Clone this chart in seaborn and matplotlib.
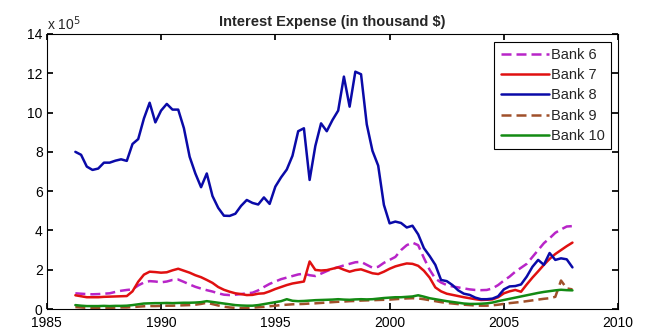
import matplotlib
matplotlib.use("Agg")
import matplotlib.pyplot as plt
import seaborn as sns
import pandas as pd
import numpy as np

sns.set_theme(style="white")
plt.rcParams['font.family'] = ['Liberation Sans', 'DejaVu Sans']

# quarterly dates, 1986 Q2 .. 2008 Q1
anos = np.arange(1986.25, 2008.01, 0.25)

# valores em unidades de 10^5 (mil $)
bank6 = [0.8, 0.78, 0.76, 0.75, 0.76, 0.78, 0.8, 0.87, 0.93, 0.97, 1.0, 1.2,
         1.35, 1.42, 1.4, 1.36, 1.4, 1.48, 1.5, 1.38, 1.25, 1.13, 1.04, 0.96,
         0.89, 0.8, 0.73, 0.71, 0.73, 0.76, 0.8, 0.83, 0.95, 1.12, 1.28, 1.4,
         1.52, 1.6, 1.68, 1.76, 1.8, 1.72, 1.68, 1.8, 1.93, 2.05, 2.13, 2.22,
         2.3, 2.38, 2.4, 2.25, 2.1, 2.15, 2.35, 2.5, 2.65, 3.0, 3.25, 3.38,
         3.25, 2.6, 2.0, 1.55, 1.35, 1.22, 1.15, 1.1, 1.05, 1.0, 0.97, 0.96,
         0.97, 1.05, 1.22, 1.45, 1.65, 1.9, 2.1, 2.3, 2.65, 3.0, 3.35, 3.6,
         3.88, 4.05, 4.2, 4.22]
bank7 = [0.7, 0.65, 0.6, 0.6, 0.6, 0.62, 0.63, 0.64, 0.65, 0.66, 0.9, 1.39,
         1.75, 1.9, 1.88, 1.85, 1.87, 1.97, 2.05, 1.95, 1.85, 1.72, 1.62, 1.48,
         1.33, 1.12, 0.98, 0.88, 0.8, 0.76, 0.71, 0.72, 0.78, 0.8, 0.9, 1.02,
         1.12, 1.22, 1.3, 1.35, 1.4, 2.42, 1.99, 1.96, 1.98, 2.05, 2.12, 2.0,
         1.9, 1.98, 2.02, 1.92, 1.82, 1.78, 1.9, 2.05, 2.17, 2.25, 2.32, 2.3,
         2.2, 1.95, 1.6, 1.1, 0.9, 0.78, 0.72, 0.66, 0.6, 0.55, 0.5, 0.46,
         0.47, 0.49, 0.6, 0.8, 0.9, 0.97, 0.88, 1.25, 1.6, 1.92, 2.25, 2.55,
         2.8, 3.0, 3.2, 3.38]
bank8 = [8.0, 7.85, 7.25, 7.08, 7.15, 7.45, 7.45, 7.55, 7.62, 7.54, 8.4, 8.65,
         9.7, 10.5, 9.5, 10.1, 10.44, 10.15, 10.15, 9.2, 7.75, 6.9, 6.2, 6.9,
         5.75, 5.15, 4.75, 4.74, 4.85, 5.25, 5.55, 5.4, 5.32, 5.68, 5.35, 6.23,
         6.7, 7.1, 7.8, 9.05, 9.2, 6.57, 8.3, 9.45, 9.05, 9.62, 10.1, 11.83,
         10.3, 12.08, 11.95, 9.4, 8.05, 7.3, 5.3, 4.36, 4.45, 4.38, 4.15, 4.24,
         3.8, 3.1, 2.7, 2.25, 1.48, 1.42, 1.22, 0.95, 0.78, 0.72, 0.58, 0.5,
         0.5, 0.53, 0.65, 1.0, 1.15, 1.17, 1.25, 1.65, 2.15, 2.5, 2.25, 2.85,
         2.5, 2.58, 2.53, 2.12]
bank9 = [0.1, 0.08, 0.06, 0.05, 0.05, 0.06, 0.06, 0.07, 0.08, 0.08, 0.1, 0.12,
         0.14, 0.15, 0.15, 0.16, 0.17, 0.17, 0.18, 0.19, 0.2, 0.22, 0.26, 0.32,
         0.25, 0.18, 0.12, 0.08, 0.06, 0.05, 0.06, 0.07, 0.09, 0.11, 0.14, 0.17,
         0.2, 0.22, 0.24, 0.25, 0.26, 0.28, 0.29, 0.31, 0.33, 0.35, 0.37, 0.38,
         0.4, 0.41, 0.43, 0.44, 0.45, 0.46, 0.47, 0.48, 0.5, 0.52, 0.54, 0.55,
         0.54, 0.5, 0.45, 0.4, 0.35, 0.31, 0.28, 0.25, 0.22, 0.2, 0.18, 0.17,
         0.17, 0.19, 0.22, 0.26, 0.3, 0.33, 0.36, 0.4, 0.44, 0.48, 0.52, 0.55,
         0.62, 1.45, 1.05, 1.0]
bank10 = [0.2, 0.17, 0.15, 0.15, 0.15, 0.16, 0.15, 0.16, 0.16, 0.17, 0.2, 0.24,
          0.28, 0.29, 0.3, 0.3, 0.31, 0.3, 0.31, 0.32, 0.32, 0.33, 0.35, 0.4,
          0.36, 0.32, 0.28, 0.24, 0.2, 0.18, 0.17, 0.17, 0.2, 0.25, 0.3, 0.35,
          0.4, 0.5, 0.42, 0.4, 0.41, 0.43, 0.45, 0.46, 0.47, 0.48, 0.5, 0.48,
          0.47, 0.49, 0.5, 0.49, 0.5, 0.53, 0.56, 0.58, 0.6, 0.6, 0.62, 0.64,
          0.7, 0.63, 0.55, 0.5, 0.45, 0.4, 0.36, 0.32, 0.28, 0.26, 0.26, 0.27,
          0.29, 0.33, 0.4, 0.46, 0.52, 0.58, 0.64, 0.7, 0.76, 0.82, 0.87, 0.91,
          0.95, 0.98, 0.96, 0.95]

bancos = ["Bank 6", "Bank 7", "Bank 8", "Bank 9", "Bank 10"]
series = [bank6, bank7, bank8, bank9, bank10]

df = pd.concat([pd.DataFrame({"Ano": anos, "Valor": v, "Banco": b})
                for b, v in zip(bancos, series)])

cores = {"Bank 6": "#B825C8", "Bank 7": "#E01010", "Bank 8": "#0A0AA8",
         "Bank 9": "#A0502A", "Bank 10": "#138A13"}
tracos = {"Bank 6": (4, 2), "Bank 7": "", "Bank 8": "", "Bank 9": (4, 2), "Bank 10": ""}

fig = plt.figure(figsize=(6.5, 3.33), dpi=100)
ax = fig.add_axes([0.072, 0.072, 0.879, 0.826])

sns.lineplot(data=df, x="Ano", y="Valor", hue="Banco", style="Banco",
             palette=cores, dashes=tracos, linewidth=1.8, ax=ax)

ax.set_xlim(1985, 2010)
ax.set_ylim(0, 14)
ax.set_xticks(range(1985, 2011, 5))
ax.set_yticks(range(0, 15, 2))
ax.set_xlabel("")
ax.set_ylabel("")
ax.tick_params(direction="in", length=4, labelsize=10, colors="black",
               top=True, right=True, bottom=True, left=True)
ax.tick_params(axis="x", pad=5)
ax.tick_params(axis="y", pad=3)
for s in ax.spines.values():
    s.set_color("black")
    s.set_linewidth(0.8)

ax.set_title("Interest Expense (in thousand $)", fontsize=10.5, fontweight="bold", pad=6)
ax.text(0.0, 1.005, r"x 10$^5$", transform=ax.transAxes, fontsize=10,
        ha="left", va="bottom")

leg = ax.legend(title=None, loc="upper right", bbox_to_anchor=(0.988, 0.972),
                fontsize=10.5, handlelength=3.3, handletextpad=0.15,
                labelspacing=0.42, borderpad=0.45, borderaxespad=0,
                fancybox=False, framealpha=1, edgecolor="black")
leg.get_frame().set_linewidth(0.8)

fig.savefig("out.png", dpi=100, facecolor="white")
